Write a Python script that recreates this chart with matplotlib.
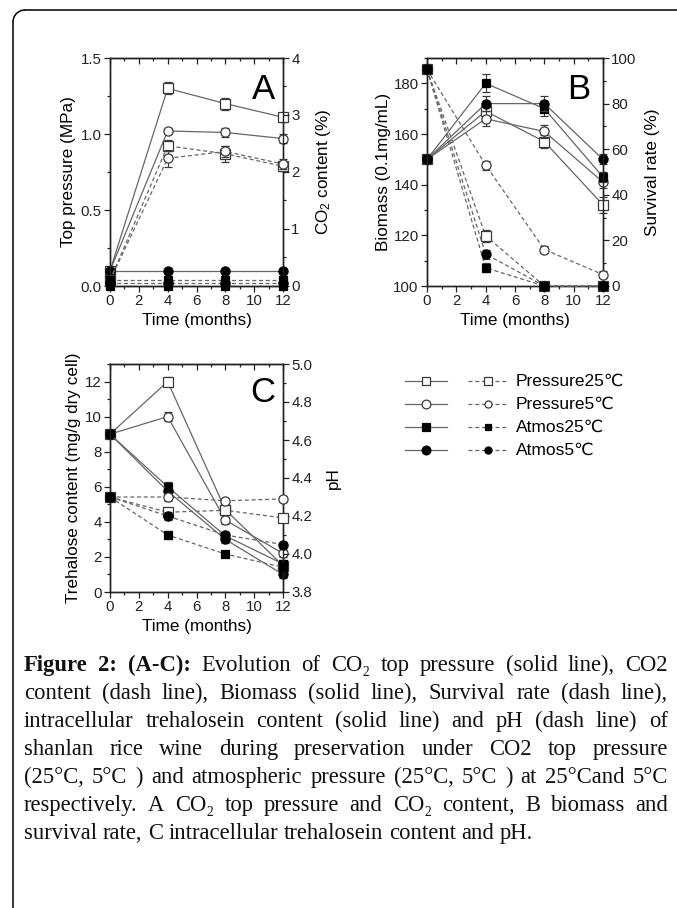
import matplotlib
matplotlib.use('Agg')
import matplotlib.pyplot as plt
from matplotlib.lines import Line2D
from matplotlib.patches import Arc
from matplotlib.ticker import MultipleLocator, FormatStrFormatter

plt.rcParams['font.family'] = ['Liberation Sans', 'DejaVu Sans']
plt.rcParams['mathtext.fontset'] = 'custom'
plt.rcParams['mathtext.rm'] = 'Liberation Sans'
plt.rcParams['mathtext.it'] = 'Liberation Sans:italic'
plt.rcParams['mathtext.bf'] = 'Liberation Sans:bold'

# ---------------- data ----------------
months = [0, 4, 8, 12]
series_names = ['Pressure25℃', 'Pressure5℃', 'Atmos25℃', 'Atmos5℃']

# Panel A: top pressure (MPa, solid) and CO2 content (%, dashed)
pres_p25 = [0.10, 1.30, 1.20, 1.11]
pres_p5 = [0.10, 1.02, 1.01, 0.97]
pres_a25 = [0.00, 0.00, 0.00, 0.00]
pres_a5 = [0.10, 0.10, 0.10, 0.10]
pres_err_p25 = [0.0, 0.04, 0.04, 0.03]
pres_err_p5 = [0.0, 0.02, 0.03, 0.03]
co2_p25 = [0.10, 2.46, 2.32, 2.10]
co2_p5 = [0.10, 2.24, 2.36, 2.14]
co2_a25 = [0.10, 0.10, 0.10, 0.10]
co2_a5 = [0.05, 0.05, 0.05, 0.05]
co2_err_p25 = [0.0, 0.10, 0.14, 0.08]
co2_err_p5 = [0.0, 0.15, 0.10, 0.08]

# Panel B: biomass (0.1mg/mL, solid) and survival rate (%, dashed)
bio_p25 = [150, 169, 157, 132]
bio_p5 = [150, 166, 161, 141]
bio_a25 = [150, 180, 170, 143]
bio_a5 = [150, 172, 172, 150]
bio_err_p25 = [1.5, 3, 2.5, 3]
bio_err_p5 = [1.5, 3, 2.5, 2.5]
bio_err_a25 = [1.5, 3.5, 3, 2]
bio_err_a5 = [1.5, 3, 3, 2]
surv_p25 = [95, 22, 0, 0]
surv_p5 = [95, 53, 16, 5]
surv_a25 = [95, 8, 0, 0]
surv_a5 = [95, 14, 0, 0]
surv_err_p25 = [1, 2.5, 0, 0]
surv_err_p5 = [1, 2, 1.5, 1.5]
surv_err_a25 = [1, 2, 0, 0]
surv_err_a5 = [1, 2, 0, 0]

# Panel C: trehalose (mg/g dry cell, solid) and pH (dashed)
tre_p25 = [9.0, 12.0, 4.7, 1.5]
tre_p5 = [9.0, 10.0, 4.1, 2.2]
tre_a25 = [9.0, 6.0, 3.2, 1.6]
tre_a5 = [9.0, 5.75, 3.0, 1.0]
tre_err = [0.2, 0.25, 0.2, 0.2]
ph_p25 = [4.30, 4.22, 4.23, 4.19]
ph_p5 = [4.30, 4.30, 4.28, 4.29]
ph_a25 = [4.30, 4.10, 4.00, 3.93]
ph_a5 = [4.30, 4.20, 4.10, 4.05]
ph_err = [0.01, 0.02, 0.015, 0.015]

# ---------------- styling ----------------
W, H = 677, 908
fig = plt.figure(figsize=(W / 100, H / 100), dpi=100)
LINE = '#666666'
EDGE = '#3a3a3a'
SOLID = '-'
DASH = (0, (3.2, 2.2))
markers = [('s', False), ('o', False), ('s', True), ('o', True)]
TICK_FS = 10.8
LAB_FS = 12.3


def px_axes(l, t, r, b):
    return fig.add_axes([l / W, 1 - b / H, (r - l) / W, (b - t) / H])


def plot_series(ax, y, err, idx, ls):
    m, filled = markers[idx]
    ms = 5.8 if (m == 's' and filled) else 6.6
    eb = ax.errorbar(months, y, yerr=err, marker=m, linestyle=ls, color=LINE, lw=0.9,
                     mfc=('black' if filled else 'white'),
                     mec=('black' if filled else EDGE), mew=0.9, ms=ms,
                     ecolor=EDGE, elinewidth=0.8, capsize=2.6, capthick=0.8,
                     zorder=3 + idx)
    eb[0].set_clip_on(False)
    for c in eb[1]:
        c.set_clip_on(False)
    for c in eb[2]:
        c.set_clip_on(False)


def style_axes(ax, axr, ylim, ymaj, ymin, rlim, rmaj, rmin):
    ax.set_xlim(0, 12)
    ax.set_ylim(*ylim)
    axr.set_ylim(*rlim)
    ax.xaxis.set_major_locator(MultipleLocator(2))
    ax.xaxis.set_minor_locator(MultipleLocator(1))
    ax.yaxis.set_major_locator(MultipleLocator(ymaj))
    ax.yaxis.set_minor_locator(MultipleLocator(ymin))
    axr.yaxis.set_major_locator(MultipleLocator(rmaj))
    axr.yaxis.set_minor_locator(MultipleLocator(rmin))
    for a in (ax, axr):
        for s in a.spines.values():
            s.set_linewidth(1.0)
            s.set_color('#222222')
    for a in (ax, axr):
        a.tick_params(which='both', direction='out', labelsize=TICK_FS, width=0.9,
                      colors='#222222', pad=2)
        a.tick_params(which='major', length=4)
        a.tick_params(which='minor', length=2.5)
    top = ax.secondary_xaxis('top')
    top.xaxis.set_major_locator(MultipleLocator(2))
    top.xaxis.set_minor_locator(MultipleLocator(1))
    top.tick_params(which='both', direction='in', labeltop=False, width=0.9,
                    colors='#222222')
    top.tick_params(which='major', length=4)
    top.tick_params(which='minor', length=2.5)
    ax.set_xlabel('Time (months)', fontsize=LAB_FS, labelpad=3)


# ---------------- Panel A ----------------
axA = px_axes(110, 58, 283, 286)
axAr = axA.twinx()
style_axes(axA, axAr, (0, 1.5), 0.5, 0.25, (0, 4), 1, 0.5)
for i, (y, e) in enumerate([(pres_p25, pres_err_p25), (pres_p5, pres_err_p5),
                            (pres_a25, None), (pres_a5, None)]):
    plot_series(axA, y, e, i, SOLID)
for i, (y, e) in enumerate([(co2_p25, co2_err_p25), (co2_p5, co2_err_p5),
                            (co2_a25, None), (co2_a5, None)]):
    plot_series(axAr, y, e, i, DASH)
axA.yaxis.set_major_formatter(FormatStrFormatter('%.1f'))
axA.set_ylabel('Top pressure (MPa)', fontsize=LAB_FS, labelpad=3)
axAr.set_ylabel('CO$_2$ content (%)', fontsize=LAB_FS, labelpad=10)
axA.text(0.885, 0.86, 'A', transform=axA.transAxes, fontsize=25,
         ha='center', va='center')

# ---------------- Panel B ----------------
axB = px_axes(427, 58, 603, 286)
axBr = axB.twinx()
style_axes(axB, axBr, (100, 190), 20, 10, (0, 100), 20, 10)
for i, (y, e) in enumerate([(bio_p25, bio_err_p25), (bio_p5, bio_err_p5),
                            (bio_a25, bio_err_a25), (bio_a5, bio_err_a5)]):
    plot_series(axB, y, e, i, SOLID)
for i, (y, e) in enumerate([(surv_p25, surv_err_p25), (surv_p5, surv_err_p5),
                            (surv_a25, surv_err_a25), (surv_a5, surv_err_a5)]):
    plot_series(axBr, y, e, i, DASH)
axB.set_ylabel('Biomass (0.1mg/mL)', fontsize=LAB_FS, labelpad=2)
axBr.set_ylabel('Survival rate (%)', fontsize=LAB_FS, labelpad=6)
axB.text(0.86, 0.86, 'B', transform=axB.transAxes, fontsize=25,
         ha='center', va='center')

# ---------------- Panel C ----------------
axC = px_axes(110, 364, 283, 592)
axCr = axC.twinx()
style_axes(axC, axCr, (0, 13), 2, 1, (3.8, 5.0), 0.2, 0.1)
for i, y in enumerate([tre_p25, tre_p5, tre_a25, tre_a5]):
    plot_series(axC, y, tre_err, i, SOLID)
for i, y in enumerate([ph_p25, ph_p5, ph_a25, ph_a5]):
    plot_series(axCr, y, ph_err, i, DASH)
axCr.yaxis.set_major_formatter(FormatStrFormatter('%.1f'))
axC.set_ylabel('Trehalose content (mg/g dry cell)', fontsize=LAB_FS, labelpad=3)
axCr.set_ylabel('pH', fontsize=LAB_FS, labelpad=10)
axC.text(0.885, 0.873, 'C', transform=axC.transAxes, fontsize=25,
         ha='center', va='center')

# ---------------- legend ----------------
def fx(x):
    return x / W


def fy(y):
    return 1 - y / H


leg_rows = [381, 404, 427, 450]
for i, name in enumerate(series_names):
    yy = leg_rows[i]
    m, filled = markers[i]
    ms = 5.2 if (m == 's' and filled) else 6.3
    for (x0, x1, ls) in [(405, 447, SOLID), (468, 507, DASH)]:
        fig.add_artist(Line2D([fx(x0), fx(x1)], [fy(yy), fy(yy)], color=LINE,
                              lw=0.9, linestyle=ls, transform=fig.transFigure))
        fig.add_artist(Line2D([fx((x0 + x1) / 2)], [fy(yy)], marker=m,
                              mfc=('black' if filled else 'white'),
                              mec=('black' if filled else EDGE), mew=0.9,
                              ms=(ms if ls == SOLID else ms - 1.2),
                              linestyle='none', transform=fig.transFigure))
    fig.text(fx(516), fy(yy), name, fontsize=12.5, va='center', ha='left',
             family=['Liberation Sans', 'DejaVu Sans'])

# ---------------- frame ----------------
fig.add_artist(Line2D([13 / 100, 13 / 100], [0, (H - 22) / 100], color='black',
                      lw=1.1, transform=fig.dpi_scale_trans))
fig.add_artist(Line2D([25 / 100, W / 100], [(H - 10) / 100, (H - 10) / 100],
                      color='black', lw=1.1, transform=fig.dpi_scale_trans))
fig.add_artist(Arc((25 / 100, (H - 22) / 100), 0.24, 0.24, theta1=90, theta2=180,
                   color='black', lw=1.1, transform=fig.dpi_scale_trans))

# ---------------- caption ----------------
SERIF = ['Liberation Serif', 'DejaVu Serif']
CAP_FS = 16.3
B, N = True, False
cap_lines = [
    [("Figure", B), ("2:", B), ("(A-C):", B), ("Evolution", N), ("of", N), ("CO₂", N),
     ("top", N), ("pressure", N), ("(solid", N), ("line),", N), ("CO2", N)],
    [("content", N), ("(dash", N), ("line),", N), ("Biomass", N), ("(solid", N),
     ("line),", N), ("Survival", N), ("rate", N), ("(dash", N), ("line),", N)],
    [("intracellular", N), ("trehalosein", N), ("content", N), ("(solid", N),
     ("line)", N), ("and", N), ("pH", N), ("(dash", N), ("line)", N), ("of", N)],
    [("shanlan", N), ("rice", N), ("wine", N), ("during", N), ("preservation", N),
     ("under", N), ("CO2", N), ("top", N), ("pressure", N)],
    [("(25°C,", N), ("5°C", N), (")", N), ("and", N), ("atmospheric", N),
     ("pressure", N), ("(25°C,", N), ("5°C", N), (")", N), ("at", N), ("25°Cand", N),
     ("5°C", N)],
    [("respectively.", N), ("A", N), ("CO₂", N), ("top", N), ("pressure", N), ("and", N),
     ("CO₂", N), ("content,", N), ("B", N), ("biomass", N), ("and", N)],
    [("survival", N), ("rate,", N), ("C", N), ("intracellular", N), ("trehalosein", N),
     ("content", N), ("and", N), ("pH.", N)],
]
cap_y0, cap_dy = 664, 28
x_left, x_right = 24, 668
renderer = fig.canvas.get_renderer()
space_px = CAP_FS * 100 / 72 * 0.25
base_off = CAP_FS * 100 / 72 * 0.33
for li, toks in enumerate(cap_lines):
    yy = cap_y0 + li * cap_dy + base_off
    texts = []
    for word, bold in toks:
        t = fig.text(0, fy(yy), word, fontsize=CAP_FS, family=SERIF,
                     weight=('bold' if bold else 'normal'), va='baseline', ha='left',
                     color='#111111')
        texts.append(t)
    widths = [t.get_window_extent(renderer=renderer).width for t in texts]
    last = li == len(cap_lines) - 1
    if last or len(texts) < 2:
        gap = space_px
    else:
        gap = (x_right - x_left - sum(widths)) / (len(texts) - 1)
        gap = max(gap, space_px * 0.6)
    x = x_left
    for t, w in zip(texts, widths):
        t.set_x(fx(x))
        x += w + gap

fig.savefig('out.png', dpi=100)
